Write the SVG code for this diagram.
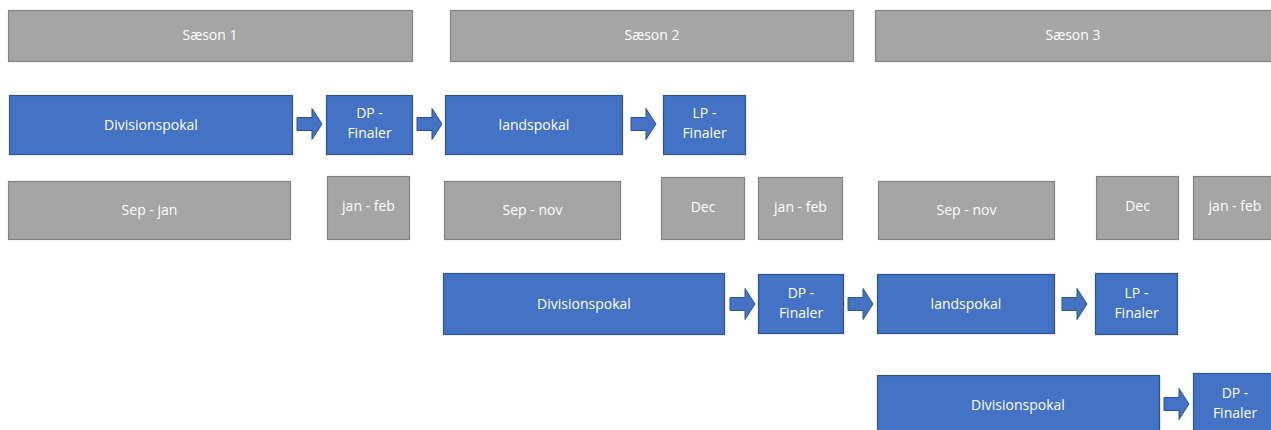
<svg xmlns="http://www.w3.org/2000/svg" width="1271" height="430" viewBox="0 0 1271 430">
<style>
.g{fill:#A5A5A5;stroke:#828282;stroke-width:1.2}
.b{fill:#4472C4;stroke:#2F528F;stroke-width:1.2}
.a{fill:#4472C4;stroke:#2F528F;stroke-width:1}
text{font-family:"Open Sans","Noto Sans","Liberation Sans",sans-serif;font-size:14px;fill:#FFFFFF;text-anchor:middle}
</style>
<defs>
<path id="arr" d="M0,-6.5 H15 V-15.5 L25,0 L15,15.5 V6.5 H0 Z"/>
</defs>
<rect width="1271" height="430" fill="#FFFFFF"/>
<g id="saeson1"><rect class="g" x="8.5" y="10.5" width="404" height="51"/><text x="210" y="40">Sæson 1</text></g>
<g id="saeson2"><rect class="g" x="450.5" y="10.5" width="403" height="51"/><text x="652" y="40">Sæson 2</text></g>
<g id="saeson3"><rect class="g" x="875.5" y="10.5" width="400" height="51"/><text x="1073" y="40">Sæson 3</text></g>

<g id="dp1"><rect class="b" x="9.5" y="95.5" width="283" height="59"/><text x="151" y="130">Divisionspokal</text></g>
<g id="dpf1"><rect class="b" x="326.5" y="95.5" width="86" height="59"/><text x="369.5" y="118">DP -</text><text x="369.5" y="138">Finaler</text></g>
<g id="lp1"><rect class="b" x="445.5" y="95.5" width="177" height="59"/><text x="534" y="130">landspokal</text></g>
<g id="lpf1"><rect class="b" x="663.5" y="95.5" width="82" height="59"/><text x="704.5" y="118">LP -</text><text x="704.5" y="138">Finaler</text></g>

<g id="sepjan"><rect class="g" x="8.5" y="181.5" width="282" height="58"/><text x="149.5" y="215">Sep - jan</text></g>
<g id="janfeb1"><rect class="g" x="327.5" y="176.5" width="82" height="63"/><text x="368.5" y="211">jan - feb</text></g>
<g id="sepnov1"><rect class="g" x="444.5" y="181.5" width="176" height="58"/><text x="532.5" y="215">Sep - nov</text></g>
<g id="dec1"><rect class="g" x="661.5" y="177.5" width="83" height="62"/><text x="703" y="212">Dec</text></g>
<g id="janfeb2"><rect class="g" x="758.5" y="177.5" width="84" height="62"/><text x="800.5" y="212">jan - feb</text></g>
<g id="sepnov2"><rect class="g" x="878.5" y="181.5" width="176" height="58"/><text x="966.5" y="215">Sep - nov</text></g>
<g id="dec2"><rect class="g" x="1096.5" y="176.5" width="82" height="63"/><text x="1137.5" y="211">Dec</text></g>
<g id="janfeb3"><rect class="g" x="1193.5" y="176.5" width="84" height="63"/><text x="1235" y="211">jan - feb</text></g>

<g id="dp2"><rect class="b" x="443.5" y="273.5" width="281" height="61"/><text x="584" y="309">Divisionspokal</text></g>
<g id="dpf2"><rect class="b" x="758.5" y="274.5" width="85" height="59"/><text x="801" y="298">DP -</text><text x="801" y="318">Finaler</text></g>
<g id="lp2"><rect class="b" x="877.5" y="274.5" width="177" height="59"/><text x="966" y="309">landspokal</text></g>
<g id="lpf2"><rect class="b" x="1095.5" y="273.5" width="82" height="61"/><text x="1136.5" y="298">LP -</text><text x="1136.5" y="318">Finaler</text></g>

<g id="dp3"><rect class="b" x="877.5" y="375.5" width="282" height="60"/><text x="1018" y="410">Divisionspokal</text></g>
<g id="dpf3"><rect class="b" x="1193.5" y="373.5" width="84" height="62"/><text x="1235" y="398">DP -</text><text x="1235" y="418">Finaler</text></g>

<g id="connectors">
<use href="#arr" class="a" x="297" y="124"/>
<use href="#arr" class="a" x="417" y="124"/>
<use href="#arr" class="a" x="631" y="124"/>
<use href="#arr" class="a" x="730" y="304"/>
<use href="#arr" class="a" x="848" y="304"/>
<use href="#arr" class="a" x="1062" y="304"/>
<use href="#arr" class="a" x="1164" y="404"/>
</g>
</svg>
